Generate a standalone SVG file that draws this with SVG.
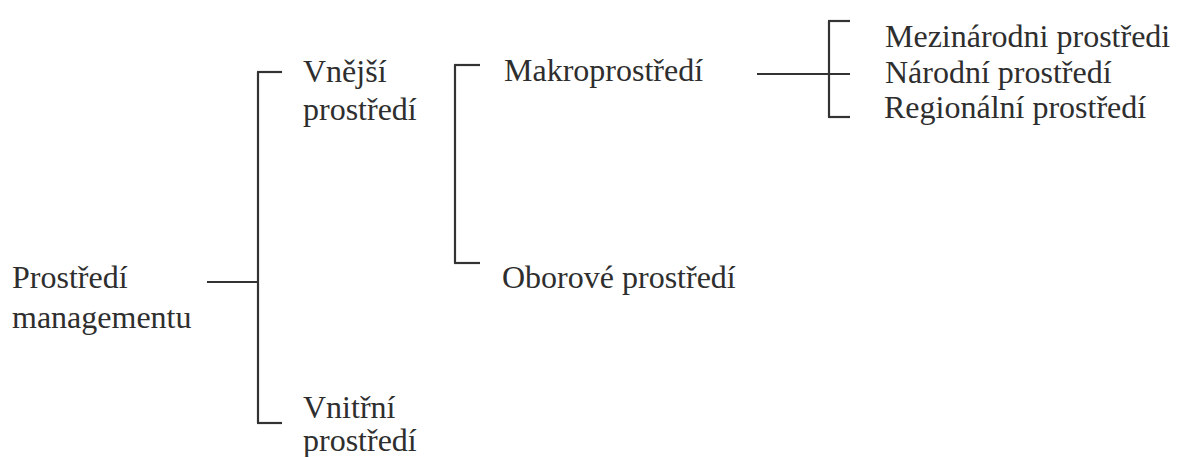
<svg xmlns="http://www.w3.org/2000/svg" width="1180" height="457" viewBox="0 0 1180 457">
<style>
text { font-family: "Liberation Serif", "Times New Roman", serif; font-size: 32px; fill: #2e2e2e; }
.c line { stroke: #333; stroke-width: 2.2; fill: none; }
</style>
<rect width="1180" height="457" fill="#fff"/>
<g class="c" id="connectors">
  <line x1="207" y1="282" x2="258" y2="282"/>
  <line x1="258" y1="72" x2="258" y2="423"/>
  <line x1="257" y1="72" x2="282" y2="72"/>
  <line x1="257" y1="423" x2="282" y2="423"/>
  <line x1="455" y1="65" x2="455" y2="263"/>
  <line x1="454" y1="65" x2="480" y2="65"/>
  <line x1="454" y1="263" x2="480" y2="263"/>
  <line x1="757" y1="74" x2="850" y2="74"/>
  <line x1="829" y1="21" x2="829" y2="117"/>
  <line x1="828" y1="21" x2="850" y2="21"/>
  <line x1="828" y1="117" x2="850" y2="117"/>
</g>
<g id="n-prostredi-managementu">
  <text x="12" y="288">Prostředí</text>
  <text x="12" y="328">managementu</text>
</g>
<g id="n-vnejsi">
  <text x="303" y="82">Vnější</text>
  <text x="303" y="120">prostředí</text>
</g>
<g id="n-vnitrni">
  <text x="303" y="418">Vnitřní</text>
  <text x="303" y="451">prostředí</text>
</g>
<g id="n-makro">
  <text x="504" y="81">Makroprostředí</text>
</g>
<g id="n-oborove">
  <text x="502" y="288">Oborové prostředí</text>
</g>
<g id="n-mezinarodni">
  <text x="885" y="47">Mezinárodni prostředi</text>
</g>
<g id="n-narodni">
  <text x="885" y="83">Národní prostředí</text>
</g>
<g id="n-regionalni">
  <text x="884" y="118">Regionální prostředí</text>
</g>
</svg>
